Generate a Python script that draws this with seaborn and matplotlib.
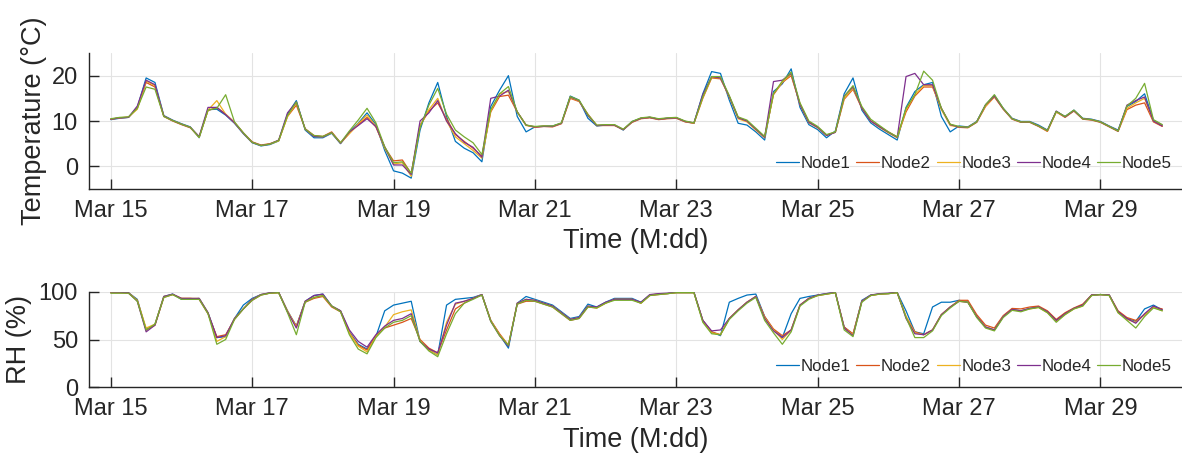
import matplotlib
matplotlib.use("Agg")
import matplotlib.pyplot as plt
import matplotlib.dates as mdates
import numpy as np
import pandas as pd
import seaborn as sns

# 3-hourly readings, Mar 15 00:00 -> Mar 29 21:00
start = pd.Timestamp("2019-03-15")
times = start + pd.to_timedelta(np.arange(120) * 3, unit="h")

nodes = ["Node1", "Node2", "Node3", "Node4", "Node5"]
colors = ["#0072BD", "#D95319", "#EDB120", "#7E2F8E", "#77AC30"]

# temperature (°C), one row per day
temp_node1 = [10.3, 10.6, 10.8, 13.0, 19.5, 18.5, 11.2, 10.2,
              9.4, 8.7, 6.3, 12.5, 12.6, 11.3, 9.5, 7.2,
              5.2, 4.5, 4.8, 5.6, 11.5, 14.5, 8.0, 6.3,
              6.3, 7.3, 5.0, 7.5, 9.5, 11.8, 9.2, 3.5,
              -1.0, -1.5, -2.6, 8.0, 14.0, 18.5, 11.0, 5.5,
              4.0, 3.0, 1.0, 13.2, 16.8, 20.0, 11.0, 7.6,
              8.7, 8.9, 8.9, 9.5, 15.5, 14.6, 10.6, 8.9,
              9.1, 9.1, 8.0, 9.9, 10.6, 10.8, 10.4, 10.6,
              10.7, 9.9, 9.5, 16.0, 20.9, 20.5, 14.6, 9.5,
              9.1, 7.6, 5.8, 16.5, 18.2, 21.5, 13.0, 9.2,
              8.1, 6.3, 7.8, 16.0, 19.5, 12.4, 9.6, 8.2,
              7.0, 5.8, 13.0, 16.5, 18.0, 18.5, 11.0, 7.6,
              8.9, 8.7, 9.9, 13.5, 15.7, 12.8, 10.6, 9.9,
              9.9, 9.1, 8.0, 12.1, 11.0, 12.4, 10.6, 10.4,
              9.9, 8.9, 8.0, 13.2, 14.3, 16.0, 10.2, 9.1]
temp_node2 = [10.4, 10.7, 10.8, 12.8, 18.5, 17.5, 11.0, 10.0,
              9.2, 8.5, 6.5, 12.3, 13.0, 11.5, 9.7, 7.4,
              5.4, 4.7, 5.0, 5.7, 11.0, 13.5, 8.3, 6.8,
              6.6, 7.6, 5.2, 7.3, 9.2, 10.8, 8.7, 4.2,
              1.2, 1.4, -1.6, 9.0, 12.2, 14.0, 10.5, 7.0,
              5.5, 4.0, 2.2, 12.0, 15.4, 15.7, 12.0, 9.1,
              8.6, 8.8, 8.7, 9.4, 15.0, 14.3, 11.5, 9.0,
              9.0, 9.0, 8.1, 9.7, 10.5, 10.7, 10.3, 10.5,
              10.6, 9.8, 9.5, 15.0, 19.5, 19.3, 15.4, 10.8,
              10.0, 8.2, 6.5, 15.8, 18.5, 20.0, 13.8, 9.8,
              8.6, 6.9, 7.5, 14.8, 17.0, 12.8, 10.0, 8.8,
              7.6, 6.5, 12.0, 15.5, 17.5, 17.5, 12.8, 9.2,
              8.6, 8.5, 9.7, 13.2, 15.3, 12.6, 10.4, 9.7,
              9.7, 8.8, 7.7, 12.0, 10.8, 12.2, 10.4, 10.2,
              9.7, 8.7, 7.7, 12.5, 13.5, 14.0, 9.8, 8.8]
temp_node3 = [10.4, 10.7, 10.9, 12.6, 18.8, 17.8, 11.1, 10.1,
              9.3, 8.6, 6.4, 12.4, 14.5, 11.5, 9.6, 7.3,
              5.3, 4.6, 4.9, 5.6, 11.0, 14.0, 8.2, 6.6,
              6.5, 7.4, 5.1, 7.2, 9.4, 11.3, 8.9, 4.0,
              0.5, 0.8, -2.2, 9.0, 12.5, 15.0, 10.0, 6.5,
              5.0, 3.5, 1.8, 12.2, 16.0, 16.5, 12.0, 9.0,
              8.7, 8.9, 8.8, 9.5, 15.2, 14.4, 11.3, 9.0,
              9.1, 9.1, 8.1, 9.8, 10.6, 10.8, 10.4, 10.6,
              10.7, 9.9, 9.5, 15.2, 19.6, 19.5, 15.3, 10.5,
              9.8, 8.0, 6.3, 16.0, 18.6, 20.3, 13.6, 9.6,
              8.5, 6.8, 7.6, 15.0, 17.2, 13.0, 10.0, 8.6,
              7.4, 6.3, 12.5, 15.8, 17.8, 17.8, 12.5, 9.0,
              8.7, 8.6, 9.8, 13.3, 15.4, 12.7, 10.5, 9.8,
              9.8, 8.9, 7.8, 12.0, 10.9, 12.3, 10.5, 10.3,
              9.8, 8.8, 7.8, 12.8, 14.0, 15.0, 10.0, 9.0]
temp_node4 = [10.4, 10.7, 10.8, 13.3, 19.0, 18.0, 11.1, 10.1,
              9.3, 8.6, 6.6, 13.0, 13.0, 11.4, 9.6, 7.3,
              5.3, 4.6, 4.9, 5.8, 11.8, 14.2, 8.2, 6.6,
              6.5, 7.4, 5.1, 7.6, 9.0, 10.5, 8.8, 4.3,
              0.3, 0.3, -1.8, 10.0, 11.8, 14.5, 10.0, 7.2,
              5.3, 4.2, 2.0, 15.0, 15.5, 16.8, 12.0, 9.1,
              8.7, 8.8, 8.8, 9.5, 15.3, 14.5, 11.2, 9.0,
              9.1, 9.1, 8.1, 9.8, 10.6, 10.8, 10.4, 10.6,
              10.7, 9.9, 9.6, 15.8, 19.8, 19.5, 15.4, 10.7,
              10.0, 8.2, 6.4, 18.7, 19.0, 20.5, 13.6, 9.7,
              8.6, 6.8, 7.5, 15.5, 17.5, 12.9, 10.0, 8.7,
              7.5, 6.4, 19.8, 20.5, 18.0, 18.0, 12.8, 9.2,
              8.7, 8.6, 9.8, 13.6, 15.5, 12.7, 10.5, 9.8,
              9.8, 8.9, 7.9, 12.2, 10.9, 12.3, 10.5, 10.3,
              9.8, 8.8, 7.8, 13.5, 14.5, 15.3, 10.0, 8.9]
temp_node5 = [10.5, 10.8, 10.9, 12.8, 17.5, 17.0, 11.0, 10.1,
              9.3, 8.6, 6.4, 12.4, 12.8, 15.8, 9.8, 7.4,
              5.3, 4.6, 4.9, 5.7, 11.2, 14.2, 8.2, 6.8,
              6.6, 7.4, 5.2, 7.8, 10.2, 12.8, 9.6, 4.3,
              0.8, 1.0, -1.5, 8.5, 13.5, 17.2, 11.5, 8.0,
              6.5, 5.2, 2.6, 12.5, 16.0, 17.6, 12.0, 9.1,
              8.8, 8.9, 8.9, 9.6, 15.4, 14.6, 11.4, 9.1,
              9.2, 9.2, 8.2, 9.9, 10.7, 10.9, 10.5, 10.7,
              10.8, 10.0, 9.6, 15.3, 19.8, 19.8, 15.6, 10.9,
              10.2, 8.4, 6.6, 16.0, 18.8, 20.8, 14.0, 10.0,
              8.8, 7.0, 7.6, 15.4, 17.8, 13.2, 10.4, 9.0,
              7.6, 6.5, 12.8, 15.8, 21.0, 19.0, 12.8, 9.3,
              8.8, 8.6, 9.8, 13.6, 15.8, 12.8, 10.5, 9.8,
              9.8, 8.9, 7.9, 12.1, 11.0, 12.4, 10.5, 10.3,
              9.8, 8.8, 7.8, 13.3, 15.0, 18.3, 10.3, 9.2]

# relative humidity (%), one row per day
rh_node1 = [99, 99, 99, 92, 60, 66, 95, 97.5,
            92, 92, 93, 78, 52, 53, 72, 86,
            93, 97, 98.5, 99, 80, 64, 90, 96,
            97.5, 85, 80, 58, 45, 40, 53, 80,
            86, 88, 90, 48, 39, 34, 86, 92,
            93, 94, 97, 70, 55, 41, 88, 95,
            92, 89, 86, 79, 72, 74, 87, 84,
            89, 93, 93, 93, 89, 96.5, 97.5, 98,
            99, 99, 99, 70, 58, 54, 89, 93,
            96.5, 97.5, 74, 60, 52, 77, 93, 95,
            96.5, 98, 99, 63, 55, 91, 96.5, 97.5,
            98, 99, 80, 58, 56, 84, 89, 89,
            91, 89, 74, 63, 60, 74, 81.5, 80,
            82.5, 84, 79, 70, 77, 82.5, 86, 96.5,
            97, 96.5, 79, 72, 69, 82, 86, 81]
rh_node2 = [99, 99, 98.5, 91, 60, 65, 94, 97,
            93, 93, 92, 77, 53, 55, 71, 82,
            91, 96.5, 98.5, 99, 79, 64, 89, 93,
            95, 84, 79, 57, 44, 39, 54, 62,
            65, 68, 72, 50, 41, 36, 60, 82,
            88, 93, 96.5, 70, 56, 44, 87, 90,
            90, 87, 84, 77, 70, 72, 84, 83,
            88, 92, 92, 92, 88, 96, 97, 98,
            99, 99, 99, 70, 58, 55, 72, 81,
            89, 95, 74, 61, 54, 60, 86, 93,
            96, 97.5, 99, 63, 56, 90, 96, 97.5,
            98, 99, 74, 58, 55, 60, 76, 84,
            91, 91, 76, 65, 62, 75, 82.5, 82,
            84, 85, 80, 71, 78, 83, 87, 96.5,
            97, 96.5, 80, 73, 70, 76, 84, 82]
rh_node3 = [99, 99, 99, 91, 62, 66, 95, 97,
            93, 93, 93, 78, 48, 53, 72, 82,
            92, 97, 98.5, 99, 80, 63, 90, 94,
            96, 85, 80, 57, 43, 37, 53, 63,
            76, 79, 81, 49, 39, 34, 68, 87,
            90, 93, 97, 70, 55, 44, 88, 92,
            91, 88, 85, 78, 71, 73, 85, 83,
            88, 92, 92, 92, 88, 96.5, 97.5, 98,
            99, 99, 99, 69, 57, 55, 72, 81,
            89, 95, 73, 60, 50, 60, 86, 93,
            96, 97.5, 99, 62, 55, 90, 96, 97.5,
            98, 99, 74, 57, 55, 60, 76, 84,
            90, 89, 74, 63, 60, 74, 81, 80,
            82, 83.5, 78, 69, 76, 82, 85, 96,
            97, 96, 78, 71, 68, 76, 84, 80]
rh_node4 = [99.5, 99.5, 99, 90, 58, 65, 95, 97.5,
            93, 93, 93, 78, 52, 54, 72, 82,
            92, 97, 99, 99.5, 79, 62, 90, 96,
            97.5, 85, 80, 60, 48, 42, 55, 64,
            70, 72, 77, 48, 40, 36, 65, 88,
            90, 93, 97, 69, 54, 43, 88, 92,
            91, 88, 85, 78, 71, 73, 85, 84,
            89, 92, 92, 92, 89, 97, 98, 98.5,
            99.5, 99.5, 99.5, 70, 59, 60, 72, 81,
            89, 95, 72, 59, 52, 60, 86, 93,
            96.5, 98, 99.5, 62, 54, 90, 96.5, 98,
            98.5, 99.5, 72, 56, 55, 60, 76, 84,
            90, 89, 74, 63, 60, 74, 81.5, 80,
            82.5, 84, 79, 70, 77, 82.5, 86, 96.5,
            97, 96.5, 79, 72, 67, 77, 85, 81]
rh_node5 = [98.5, 98.5, 98.5, 90, 60, 66, 94, 97,
            92, 92, 92, 77, 45, 50, 71, 82,
            91, 96.5, 98.5, 99, 78, 55, 89, 94,
            96, 85, 79, 55, 40, 35, 52, 62,
            68, 70, 75, 48, 38, 32, 56, 77,
            88, 92, 96.5, 69, 54, 44, 87, 91,
            90, 87, 84, 77, 70, 72, 84, 83,
            88, 91, 91, 91, 88, 96, 97, 98,
            99, 99, 99, 68, 56, 55, 71, 80,
            88, 94, 70, 57, 45, 58, 85, 92,
            96, 97.5, 99, 60, 53, 89, 96, 97.5,
            98, 99, 73, 52, 52, 59, 75, 83,
            90, 89, 73, 62, 59, 73, 80.5, 79,
            82, 83.5, 78, 68, 76, 82, 85, 96,
            97, 96, 78, 70, 62, 74, 83, 80]

temps = [temp_node1, temp_node2, temp_node3, temp_node4, temp_node5]
rhs = [rh_node1, rh_node2, rh_node3, rh_node4, rh_node5]

frames = []
for name, t, rh in zip(nodes, temps, rhs):
    frames.append(pd.DataFrame({"time": times, "temp": t, "rh": rh, "Node": name}))
df = pd.concat(frames, ignore_index=True)

sns.set_theme(style="ticks")
plt.rcParams["font.family"] = ["Liberation Sans", "DejaVu Sans"]
dark = "#262626"

W, H = 1182, 457
fig = plt.figure(figsize=(W / 100, H / 100), dpi=100)
ax1 = fig.add_axes([89 / W, 1 - 189 / H, (W - 89) / W, 136 / H])
ax2 = fig.add_axes([89 / W, 1 - 387.3 / H, (W - 89) / W, 95.6 / H])

x0 = start - pd.Timedelta(hours=7.4)
x1 = start + pd.Timedelta(hours=363.7)

panels = [
    (ax1, "temp", "Temperature (°C)", (-5, 25), [0, 10, 20], 163, 3),
    (ax2, "rh", "RH (%)", (0, 100), [0, 50, 100], 366.7, 5),
]
for ax, col, ylab, ylim, yt, leg_y, lpad in panels:
    sns.lineplot(data=df, x="time", y=col, hue="Node", hue_order=nodes,
                 palette=colors, estimator=None, linewidth=0.9, ax=ax)
    ax.set_xlim(x0, x1)
    ax.set_ylim(*ylim)
    ax.set_yticks(yt)
    ax.xaxis.set_major_locator(mdates.DayLocator(bymonthday=[15, 17, 19, 21, 23, 25, 27, 29]))
    ax.xaxis.set_major_formatter(mdates.DateFormatter("%b %d"))
    ax.grid(True, color="#e3e3e3", linewidth=0.8)
    ax.set_axisbelow(True)
    sns.despine(ax=ax)
    for s in ["left", "bottom"]:
        ax.spines[s].set_color(dark)
        ax.spines[s].set_linewidth(1.0)
    ax.tick_params(direction="in", length=7.5, width=1.0, color=dark,
                   labelsize=17, labelcolor=dark, pad=8)
    ax.set_xlabel("Time (M:dd)", fontsize=19.5, color=dark, labelpad=4.5)
    ax.set_ylabel(ylab, fontsize=19.5, color=dark, labelpad=lpad)
    handles, labels = ax.get_legend_handles_labels()
    ax.legend(handles, labels, ncol=5, frameon=False, loc="center right",
              bbox_to_anchor=(1172 / W, 1 - leg_y / H), bbox_transform=fig.transFigure,
              fontsize=12.2, handlelength=1.35, handletextpad=0.1,
              columnspacing=0.35, borderpad=0, borderaxespad=0)

fig.savefig("out.png", dpi=100)
